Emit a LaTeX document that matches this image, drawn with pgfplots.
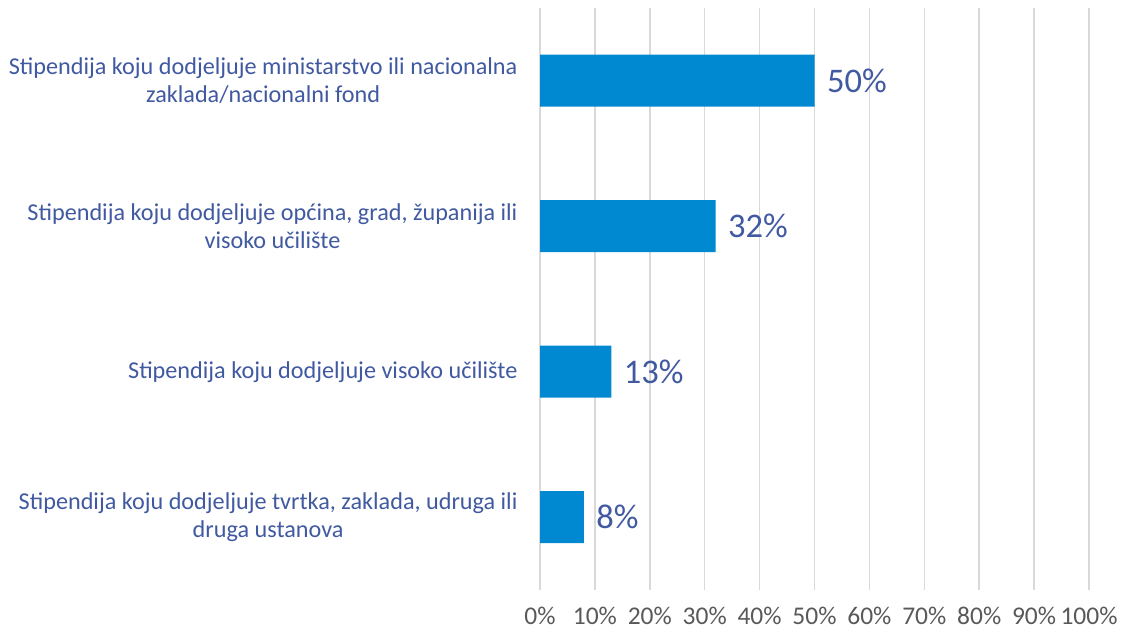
\documentclass[border=0pt]{standalone}
\usepackage{pgfplots}
\pgfplotsset{compat=1.18}
\usepackage{fontspec}
\setmainfont{Carlito}
\definecolor{barblue}{HTML}{0088D1}
\definecolor{lblblue}{HTML}{4059A0}
\definecolor{tickgray}{HTML}{595959}
\definecolor{gridgray}{HTML}{D9D9D9}
\begin{document}
\begin{tikzpicture}
\useasboundingbox (0,0) rectangle (1121pt,631pt);
\begin{axis}[
  at={(540pt,41pt)}, anchor=south west,
  scale only axis, width=549pt, height=582pt,
  xbar, bar width=52pt,
  xmin=0, xmax=100, ymin=-0.5, ymax=3.5,
  axis line style={draw=none},
  major tick length=0pt,
  xtick={0,10,...,100},
  xticklabel={\pgfmathprintnumber{\tick}\%},
  xmajorgrids, grid style={gridgray, line width=1.5pt},
  ytick={0,1,2,3},
  yticklabels={
    {Stipendija koju dodjeljuje tvrtka, zaklada, udruga ili\\druga ustanova},
    {Stipendija koju dodjeljuje visoko učilište},
    {Stipendija koju dodjeljuje općina, grad, županija ili\\visoko učilište},
    {Stipendija koju dodjeljuje ministarstvo ili nacionalna\\zaklada/nacionalni fond}},
  yticklabel style={align=center, font=\fontsize{24.2}{28}\selectfont, text=lblblue, xshift=-19pt},
  xticklabel style={font=\fontsize{25.5}{29}\selectfont, text=tickgray, yshift=-15pt, inner sep=2pt},
  /pgf/number format/assume math mode=true,
  point meta=x,
  nodes near coords={\pgfmathprintnumber{\pgfplotspointmeta}\%},
  nodes near coords style={font=\fontsize{34.5}{38}\selectfont, text=lblblue, xshift=9pt},
]
\addplot[fill=barblue, draw=none] coordinates {(8,0) (13,1) (32,2) (50,3)};
\end{axis}
\end{tikzpicture}
\end{document}
